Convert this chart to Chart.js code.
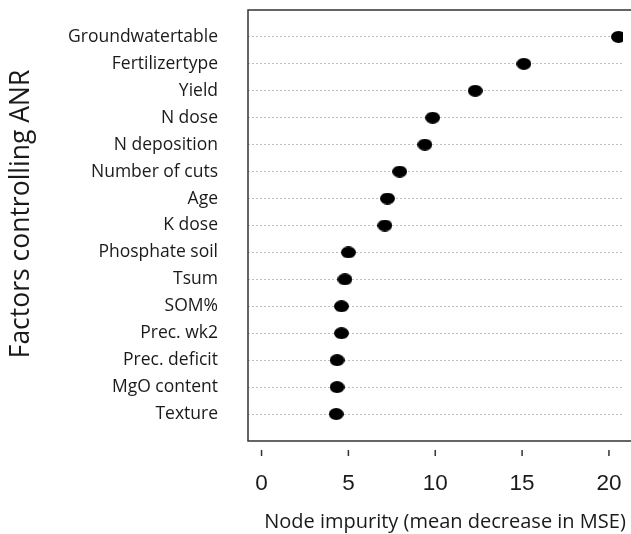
<!DOCTYPE html>
<html>
<head>
<meta charset="utf-8">
<script src="https://cdn.jsdelivr.net/npm/chart.js@4"></script>
<style>
  html, body { margin: 0; padding: 0; background: #fff; overflow: hidden; }
  #wrap { width: 631px; height: 534px; position: relative; }
</style>
</head>
<body>
<div id="wrap"><canvas id="chart" width="631" height="534"></canvas></div>
<script>
// factors, top to bottom
const FACTORS = ['Groundwatertable', 'Fertilizertype', 'Yield', 'N dose', 'N deposition',
  'Number of cuts', 'Age', 'K dose', 'Phosphate soil', 'Tsum', 'SOM%', 'Prec. wk2',
  'Prec. deficit', 'MgO content', 'Texture'];
const IMPURITY = [20.55, 15.1, 12.3, 9.85, 9.4, 7.95, 7.25, 7.1, 5.0, 4.8, 4.6, 4.6, 4.35, 4.35, 4.3];
const X_TICKS = [0, 5, 10, 15, 20];

const X_TITLE = 'Node impurity (mean decrease in MSE)';
const Y_TITLE = 'Factors controlling ANR';
const TEXT = '#1a1a1a';

// ellipse marker like R's pch 19 after stretching
function dotImage(w, h) {
  const c = document.createElement('canvas');
  c.width = w; c.height = h;
  const g = c.getContext('2d');
  g.fillStyle = '#000';
  g.beginPath();
  g.ellipse(w / 2, h / 2, w / 2, h / 2, 0, 0, Math.PI * 2);
  g.fill();
  return c;
}

const framePlugin = {
  id: 'frame',
  afterDraw(chart) {
    const { ctx, chartArea: a, scales } = chart;
    ctx.save();
    // box (right side runs off the picture)
    ctx.strokeStyle = '#333';
    ctx.lineWidth = 1.5;
    ctx.beginPath();
    ctx.moveTo(a.right + 20, a.top);
    ctx.lineTo(a.left, a.top);
    ctx.lineTo(a.left, a.bottom);
    ctx.lineTo(a.right + 20, a.bottom);
    ctx.stroke();
    // detached x tick marks
    X_TICKS.forEach(v => {
      const x = scales.x.getPixelForValue(v);
      ctx.beginPath();
      ctx.moveTo(x, a.bottom + 9);
      ctx.lineTo(x, a.bottom + 15);
      ctx.stroke();
    });
    // titles
    ctx.fillStyle = TEXT;
    ctx.textAlign = 'center';
    ctx.textBaseline = 'middle';
    ctx.font = '20px "Open Sans"';
    ctx.fillText(X_TITLE, 445, 522);
    ctx.translate(21, 214);
    ctx.rotate(-Math.PI / 2);
    ctx.font = '26.5px "Open Sans"';
    ctx.fillText(Y_TITLE, 0, 0);
    ctx.restore();
  }
};

new Chart(document.getElementById('chart'), {
  type: 'scatter',
  data: {
    datasets: [{
      data: IMPURITY.map((v, i) => ({ x: v, y: i + 1 })),
      pointStyle: dotImage(15, 12),
      pointRadius: 7,
      pointHoverRadius: 7,
    }],
  },
  options: {
    responsive: false,
    animation: false,
    events: [],
    layout: { padding: { top: 10, right: 0, left: 0, bottom: 0 } },
    plugins: { legend: { display: false }, tooltip: { enabled: false } },
    scales: {
      x: {
        type: 'linear',
        min: -0.78,
        max: 20.81,
        afterFit(s) {
          s.height = 93;
          s.paddingLeft = 0; s.paddingRight = 0;
        },
        afterBuildTicks(s) { s.ticks = X_TICKS.map(v => ({ value: v })); },
        grid: { display: false },
        border: { display: false },
        ticks: {
          padding: 21,
          color: TEXT,
          font: { family: '"Liberation Sans"', size: 22.5 },
          maxRotation: 0,
        },
      },
      y: {
        type: 'linear',
        min: 0,
        max: 16,
        reverse: true,
        afterFit(s) {
          s.width = 248;
          s.paddingTop = 0; s.paddingBottom = 0;
        },
        afterBuildTicks(s) { s.ticks = FACTORS.map((f, i) => ({ value: i + 1 })); },
        border: { display: false, dash: [2, 2] },
        grid: { color: '#bdbdbd', lineWidth: 1, drawTicks: false },
        ticks: {
          padding: 30,
          autoSkip: false,
          color: TEXT,
          font: { family: '"Open Sans"', size: 17.5 },
          callback: v => FACTORS[v - 1] || '',
        },
      },
    },
  },
  plugins: [framePlugin],
});
</script>
</body>
</html>
